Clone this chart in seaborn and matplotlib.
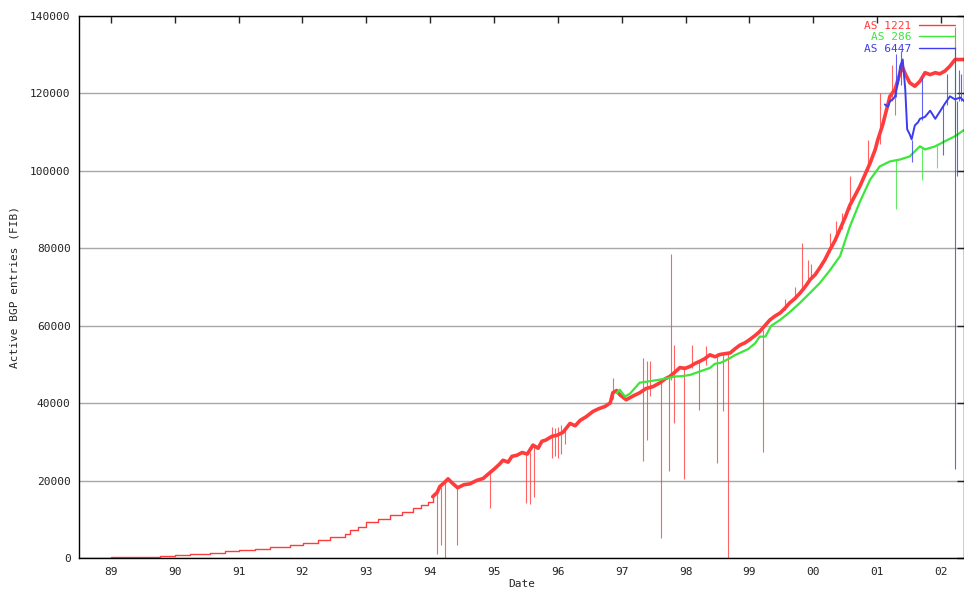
import numpy as np
import matplotlib
matplotlib.use('Agg')
import matplotlib.pyplot as plt
import seaborn as sns

# AS 1221 (red) - date in decimal years, active BGP entries
as1221_x = [1988.50, 1988.75, 1989.00, 1989.45, 1989.77, 1990.00, 1990.24, 1990.55, 1990.79,
            1991.00, 1991.26, 1991.49, 1991.80, 1992.01, 1992.24, 1992.43, 1992.66, 1992.74,
            1992.87, 1993.00, 1993.18, 1993.37, 1993.56, 1993.73, 1993.86, 1993.96,
            1994.04, 1994.11, 1994.15, 1994.22, 1994.28, 1994.34, 1994.43, 1994.53, 1994.62,
            1994.73, 1994.83, 1994.90, 1995.00, 1995.08, 1995.14, 1995.22, 1995.28, 1995.36,
            1995.44, 1995.52, 1995.61, 1995.69, 1995.75, 1995.81, 1995.91, 1995.98, 1996.08,
            1996.19, 1996.27, 1996.35, 1996.44, 1996.55, 1996.64, 1996.74, 1996.82, 1996.86,
            1996.92, 1996.97, 1997.07, 1997.18, 1997.28, 1997.38, 1997.49, 1997.60, 1997.68,
            1997.75, 1997.83, 1997.91, 1997.99, 1998.07, 1998.15, 1998.22, 1998.30, 1998.38,
            1998.46, 1998.54, 1998.62, 1998.70, 1998.77, 1998.85, 1998.93, 1999.01, 1999.09,
            1999.16, 1999.24, 1999.32, 1999.40, 1999.48, 1999.56, 1999.63, 1999.71, 1999.79,
            1999.87, 1999.95, 2000.03, 2000.10, 2000.18, 2000.26, 2000.34, 2000.42, 2000.50,
            2000.57, 2000.65, 2000.73, 2000.81, 2000.89, 2000.97, 2001.01, 2001.08, 2001.12,
            2001.20, 2001.28, 2001.36, 2001.39, 2001.44, 2001.51, 2001.59, 2001.67, 2001.75,
            2001.83, 2001.91, 2001.98, 2002.06, 2002.14, 2002.22, 2002.30, 2002.36]
as1221_y = [0, 130, 260, 400, 600, 800, 1000, 1400, 1800,
            2100, 2500, 2900, 3400, 4000, 4700, 5400, 6300, 7200,
            8100, 9300, 10200, 11100, 12000, 12900, 13800, 14500,
            15900, 17000, 18500, 19500, 20500, 19500, 18200, 19000, 19200,
            20100, 20600, 21600, 23000, 24200, 25300, 24800, 26300, 26600,
            27300, 26900, 29200, 28400, 30200, 30500, 31500, 31700, 32500,
            34800, 34200, 35600, 36500, 37900, 38600, 39200, 40100, 42700,
            43300, 42200, 40900, 41900, 42700, 43800, 44300, 45300, 46300,
            46900, 48000, 49200, 49000, 49500, 50300, 50800, 51500, 52500,
            52000, 52600, 52800, 53000, 54000, 55000, 55600, 56500, 57500,
            58500, 60000, 61500, 62500, 63300, 64600, 65900, 67000, 68400,
            70000, 71900, 73200, 74900, 77000, 79600, 82000, 85000, 88000,
            91000, 93500, 96000, 99000, 102000, 105500, 108000, 111500, 114000,
            119200, 121000, 125300, 127000, 125000, 122700, 121800, 123100, 125300,
            124800, 125300, 125000, 125700, 127000, 128700, 128700, 128700]
# AS 1221 outliers: date, top, bottom
as1221_spike_x = [1994.11, 1994.17, 1994.23, 1994.42, 1994.94, 1995.50, 1995.56, 1995.62,
                  1995.91, 1995.95, 1996.00, 1996.05, 1996.11, 1996.86, 1997.33, 1997.39,
                  1997.44, 1997.62, 1997.74, 1997.77, 1997.82, 1997.97, 1998.10, 1998.21,
                  1998.32, 1998.49, 1998.58, 1998.66, 1999.21, 1999.56, 1999.71, 1999.83,
                  1999.92, 1999.96, 2000.26, 2000.36, 2000.45, 2000.58, 2000.86, 2001.04,
                  2001.23, 2001.28, 2002.22]
as1221_spike_top = [17000, 18500, 20000, 18300, 22000, 27000, 27500, 29000,
                    34000, 33500, 33800, 34500, 34000, 46500, 51700, 51000,
                    51000, 46000, 47000, 78400, 55000, 49500, 55100, 51000,
                    54800, 53000, 53000, 53000, 59000, 67000, 70000, 81400,
                    77000, 76000, 84000, 87000, 89000, 98600, 108000, 120000,
                    127400, 121000, 137000]
as1221_spike_bottom = [1000, 3500, 0, 3500, 13000, 14300, 14000, 15700,
                       26000, 26500, 25800, 27000, 29500, 41000, 25000, 30600,
                       42000, 5200, 22400, 46000, 35000, 20400, 49000, 38300,
                       50000, 24600, 37900, 0, 27400, 64000, 67000, 69000,
                       71000, 72000, 79000, 82000, 85000, 90000, 100000, 107000,
                       118000, 114400, 128000]

# AS 286 (green)
as286_x = [1996.92, 1996.97, 1997.05, 1997.13, 1997.21, 1997.28, 1997.44, 1997.60, 1997.72,
           1997.83, 1997.94, 1998.07, 1998.22, 1998.38, 1998.46, 1998.54, 1998.62, 1998.70,
           1998.77, 1998.85, 1998.98, 1999.09, 1999.16, 1999.25, 1999.34, 1999.48, 1999.63,
           1999.79, 1999.95, 2000.10, 2000.26, 2000.42, 2000.57, 2000.73, 2000.89, 2001.04,
           2001.20, 2001.36, 2001.51, 2001.59, 2001.67, 2001.75, 2001.91, 2002.06, 2002.22,
           2002.36]
as286_y = [42600, 43500, 41700, 42500, 44000, 45300, 45700, 46100, 46500,
           46900, 47000, 47300, 48200, 49100, 50200, 50400, 51000, 51700,
           52400, 53000, 54000, 55500, 57200, 57200, 60000, 61500, 63500,
           65900, 68500, 71000, 74300, 78000, 85500, 92000, 97700, 101100,
           102400, 102900, 103700, 105000, 106300, 105500, 106300, 107600, 108900,
           110500]
as286_spike_x = [2001.29, 2001.71, 2001.94, 2002.22]
as286_spike_top = [102700, 106000, 106500, 134000]
as286_spike_bottom = [90000, 97700, 100700, 109000]

# AS 6447 (blue)
as6447_x = [2001.12, 2001.17, 2001.20, 2001.25, 2001.28, 2001.33, 2001.36, 2001.40, 2001.44,
            2001.47, 2001.51, 2001.54, 2001.59, 2001.64, 2001.67, 2001.75, 2001.83, 2001.91,
            2001.98, 2002.06, 2002.14, 2002.22, 2002.30, 2002.36]
as6447_y = [117100, 116500, 117900, 118500, 119200, 123000, 127000, 128700, 121000,
            110700, 109400, 108100, 111700, 112500, 113400, 113900, 115500, 113400,
            115200, 117300, 119200, 118400, 118900, 118000]
as6447_spike_x = [2001.30, 2001.38, 2001.54, 2001.71, 2002.03, 2002.09, 2002.22, 2002.25,
                  2002.28, 2002.32]
as6447_spike_top = [130000, 131000, 108000, 124000, 117000, 125000, 132000, 118000,
                    126000, 125000]
as6447_spike_bottom = [119000, 122000, 102300, 113000, 104000, 117000, 23000, 98600,
                       118000, 118000]

years = [1989, 1990, 1991, 1992, 1993, 1994, 1995, 1996, 1997, 1998, 1999, 2000, 2001, 2002]
year_labels = ['89', '90', '91', '92', '93', '94', '95', '96', '97', '98', '99', '00', '01', '02']
yticks = [0, 20000, 40000, 60000, 80000, 100000, 120000, 140000]

sns.set_style('white')
plt.rcParams['font.family'] = ['DejaVu Sans Mono']

red = '#ff3c3c'
green = '#3ce63c'
blue = '#3c3cf0'

fig = plt.figure(figsize=(9.64, 5.89), dpi=100)
ax = fig.add_axes([79 / 964, 30.7 / 589, 885 / 964, 542.6 / 589])

ax.grid(axis='y', color='#a8a8a8', lw=1)

# monthly staircase before 1994, dense noisy data after
x1221 = np.array(as1221_x)
y1221 = np.array(as1221_y)
early = x1221 <= 1994.04
noisy = x1221 >= 1994.04
sns.lineplot(x=x1221[early], y=y1221[early], ax=ax, color=red, lw=1, drawstyle='steps-post',
             estimator=None, label='AS 1221')
sns.lineplot(x=x1221[noisy], y=y1221[noisy], ax=ax, color=red, lw=2.6, estimator=None)
ax.vlines(as1221_spike_x, as1221_spike_bottom, as1221_spike_top, colors=red, lw=0.8, alpha=0.8)

sns.lineplot(x=as286_x, y=as286_y, ax=ax, color=green, lw=1.6, estimator=None, label='AS 286')
ax.vlines(as286_spike_x, as286_spike_bottom, as286_spike_top, colors=green, lw=0.8, alpha=0.8)

sns.lineplot(x=as6447_x, y=as6447_y, ax=ax, color=blue, lw=1.4, estimator=None, label='AS 6447')
ax.vlines(as6447_spike_x, as6447_spike_bottom, as6447_spike_top, colors=blue, lw=0.8, alpha=0.8)

ax.set_xlim(1988.5, 2002.36)
ax.set_ylim(0, 140000)
ax.set_xticks(years)
ax.set_xticklabels(year_labels)
ax.set_yticks(yticks)
ax.set_yticklabels([str(v) for v in yticks])
ax.tick_params(direction='in', length=5, width=1, top=True, right=True,
               labelsize=8, colors='#222222', pad=6)
for s in ax.spines.values():
    s.set_color('black')
    s.set_linewidth(1)

ax.set_xlabel('Date', fontsize=8, labelpad=2)
ax.set_ylabel('Active BGP entries (FIB)', fontsize=8, labelpad=8)

ax.legend(loc='upper right', bbox_to_anchor=(955 / 964, 1 - 21 / 589), bbox_transform=fig.transFigure,
          frameon=False, markerfirst=False, fontsize=8, handlelength=3.2, handletextpad=0.7,
          labelspacing=0.12, borderpad=0, borderaxespad=0, labelcolor='linecolor')
for h in ax.get_legend().get_lines():
    h.set_linewidth(1)

fig.savefig('out.png', dpi=100)
